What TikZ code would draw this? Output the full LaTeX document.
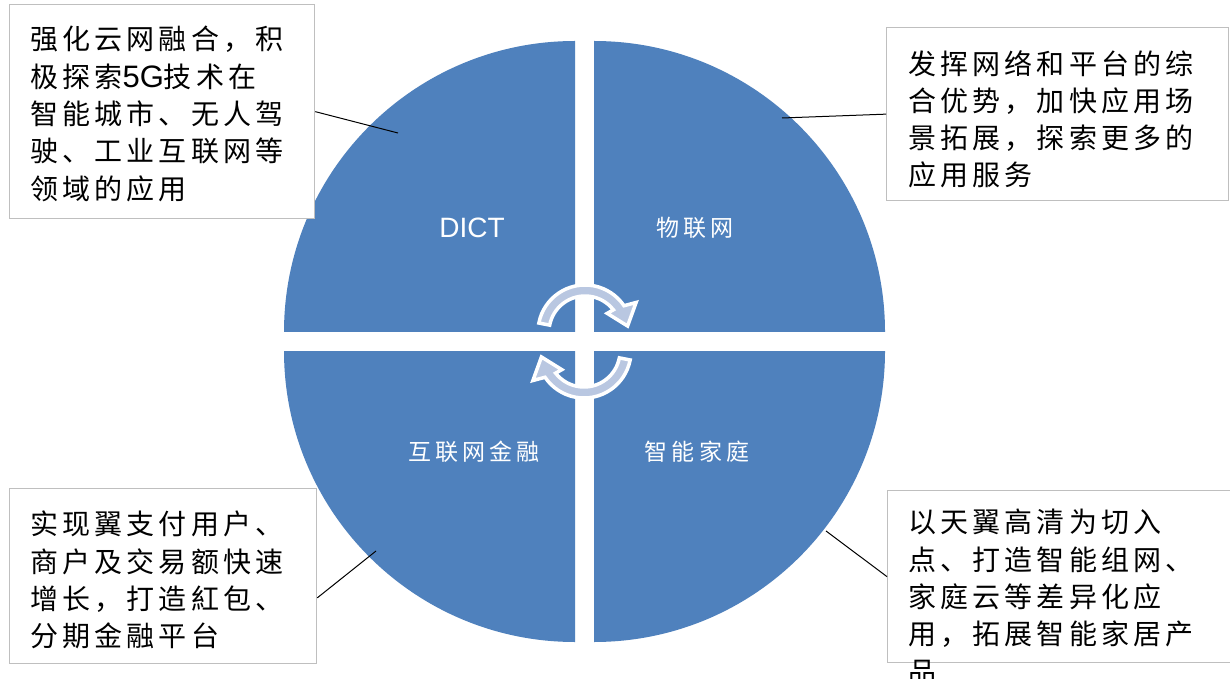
\documentclass[tikz,border=0pt]{standalone}
\usepackage{fontspec}
\setmainfont{Liberation Sans}
\newfontfamily\cjkbox[LetterSpace=15]{Noto Sans CJK SC}
\newfontfamily\cjklab[LetterSpace=18]{Noto Sans CJK SC}
\newcommand\myboxfont{\cjkbox\fontsize{28}{37.3}\selectfont}
\newcommand\mylabfont{\cjklab\fontsize{23}{28}\selectfont}
\newcommand\mylatin{\fontspec{Liberation Sans}}
\usetikzlibrary{calc}
\definecolor{qblue}{HTML}{4F81BD}
\definecolor{arrowfill}{HTML}{B9C7E1}
\definecolor{boxgray}{HTML}{BFBFBF}
\begin{document}
\begin{tikzpicture}[x=1pt,y=1pt,
  quad/.style={fill=qblue},
  infobox/.style={draw=boxgray, line width=1.3pt, fill=white, inner sep=0pt, anchor=north west},
  infotext/.style={anchor=north west, inner sep=0pt, align=left, font=\myboxfont},
  qlabel/.style={text=white, inner sep=0pt, font=\mylabfont},
  link/.style={draw=black, line width=1pt},
  cyc/.style={fill=arrowfill, draw=white, line width=3.5pt, line join=miter}
]
\useasboundingbox (0,0) rectangle (1230,678);
\clip (0,0) rectangle (1230,678);
\fill[white] (0,0) rectangle (1230,678);

% quadrants
\fill[quad] (575,346) -- ++(-291,0) arc[start angle=180, end angle=90, radius=291] -- cycle;
\fill[quad] (594,346) -- ++(0,291) arc[start angle=90, end angle=0, radius=291] -- cycle;
\fill[quad] (575,327) -- ++(-291,0) arc[start angle=180, end angle=270, radius=291] -- cycle;
\fill[quad] (594,327) -- ++(291,0) arc[start angle=0, end angle=-90, radius=291] -- cycle;

% quadrant labels
\node[qlabel, font=\mylatin\fontsize{28}{32}\selectfont] (q1) at (472,450) {DICT};
\node[qlabel] (q2) at (695,450) {物联网};
\node[qlabel] (q3) at (474,226) {互联网金融};
\node[qlabel] (q4) at (697,226) {智能家庭};

% circular arrows
\begin{scope}[shift={(585,346)}]
\path[cyc] (169:47) arc[start angle=169, end angle=34, radius=47] -- (30:59) -- (8:43) -- (40:29) -- (38:36) arc[start angle=38, end angle=169, radius=36] -- cycle;
\end{scope}
\begin{scope}[shift={(584,327)}, rotate=180]
\path[cyc] (169:47) arc[start angle=169, end angle=34, radius=47] -- (30:59) -- (8:43) -- (40:29) -- (38:36) arc[start angle=38, end angle=169, radius=36] -- cycle;
\end{scope}

% boxes
\node[infobox, minimum width=305pt, minimum height=214pt] (b1) at (9,674) {};
\node[infobox, minimum width=342pt, minimum height=173pt] (b2) at (886,651) {};
\node[infobox, minimum width=307pt, minimum height=175pt] (b3) at (9,190) {};
\node[infobox, minimum width=350pt, minimum height=172pt] (b4) at (887,188) {};

\node[infotext] (t1) at (30,652) {强化云网融合，积\\极探索{\mylatin\fontsize{31}{37.3}\selectfont 5G}技术在\\智能城市、无人驾\\驶、工业互联网等\\领域的应用};
\node[infotext] (t2) at (908,628) {发挥网络和平台的综\\合优势，加快应用场\\景拓展，探索更多的\\应用服务};
\node[infotext] (t3) at (30,167) {实现翼支付用户、\\商户及交易额快速\\增长，打造紅包、\\分期金融平台};
\node[infotext] (t4) at (908,169) {以天翼高清为切入\\点、打造智能组网、\\家庭云等差异化应\\用，拓展智能家居产\\品};

% connectors
\coordinate (c1) at (398,545);
\coordinate (c2) at (782,560);
\coordinate (c3) at (376,127);
\coordinate (c4) at (826,147);
\draw[link] (b1.east) -- (c1);
\draw[link] (b2.west) -- (c2);
\draw[link] ($(b3.south east)!0.377!(b3.north east)$) -- (c3);
\draw[link] (b4.west) -- (c4);
\end{tikzpicture}
\end{document}
